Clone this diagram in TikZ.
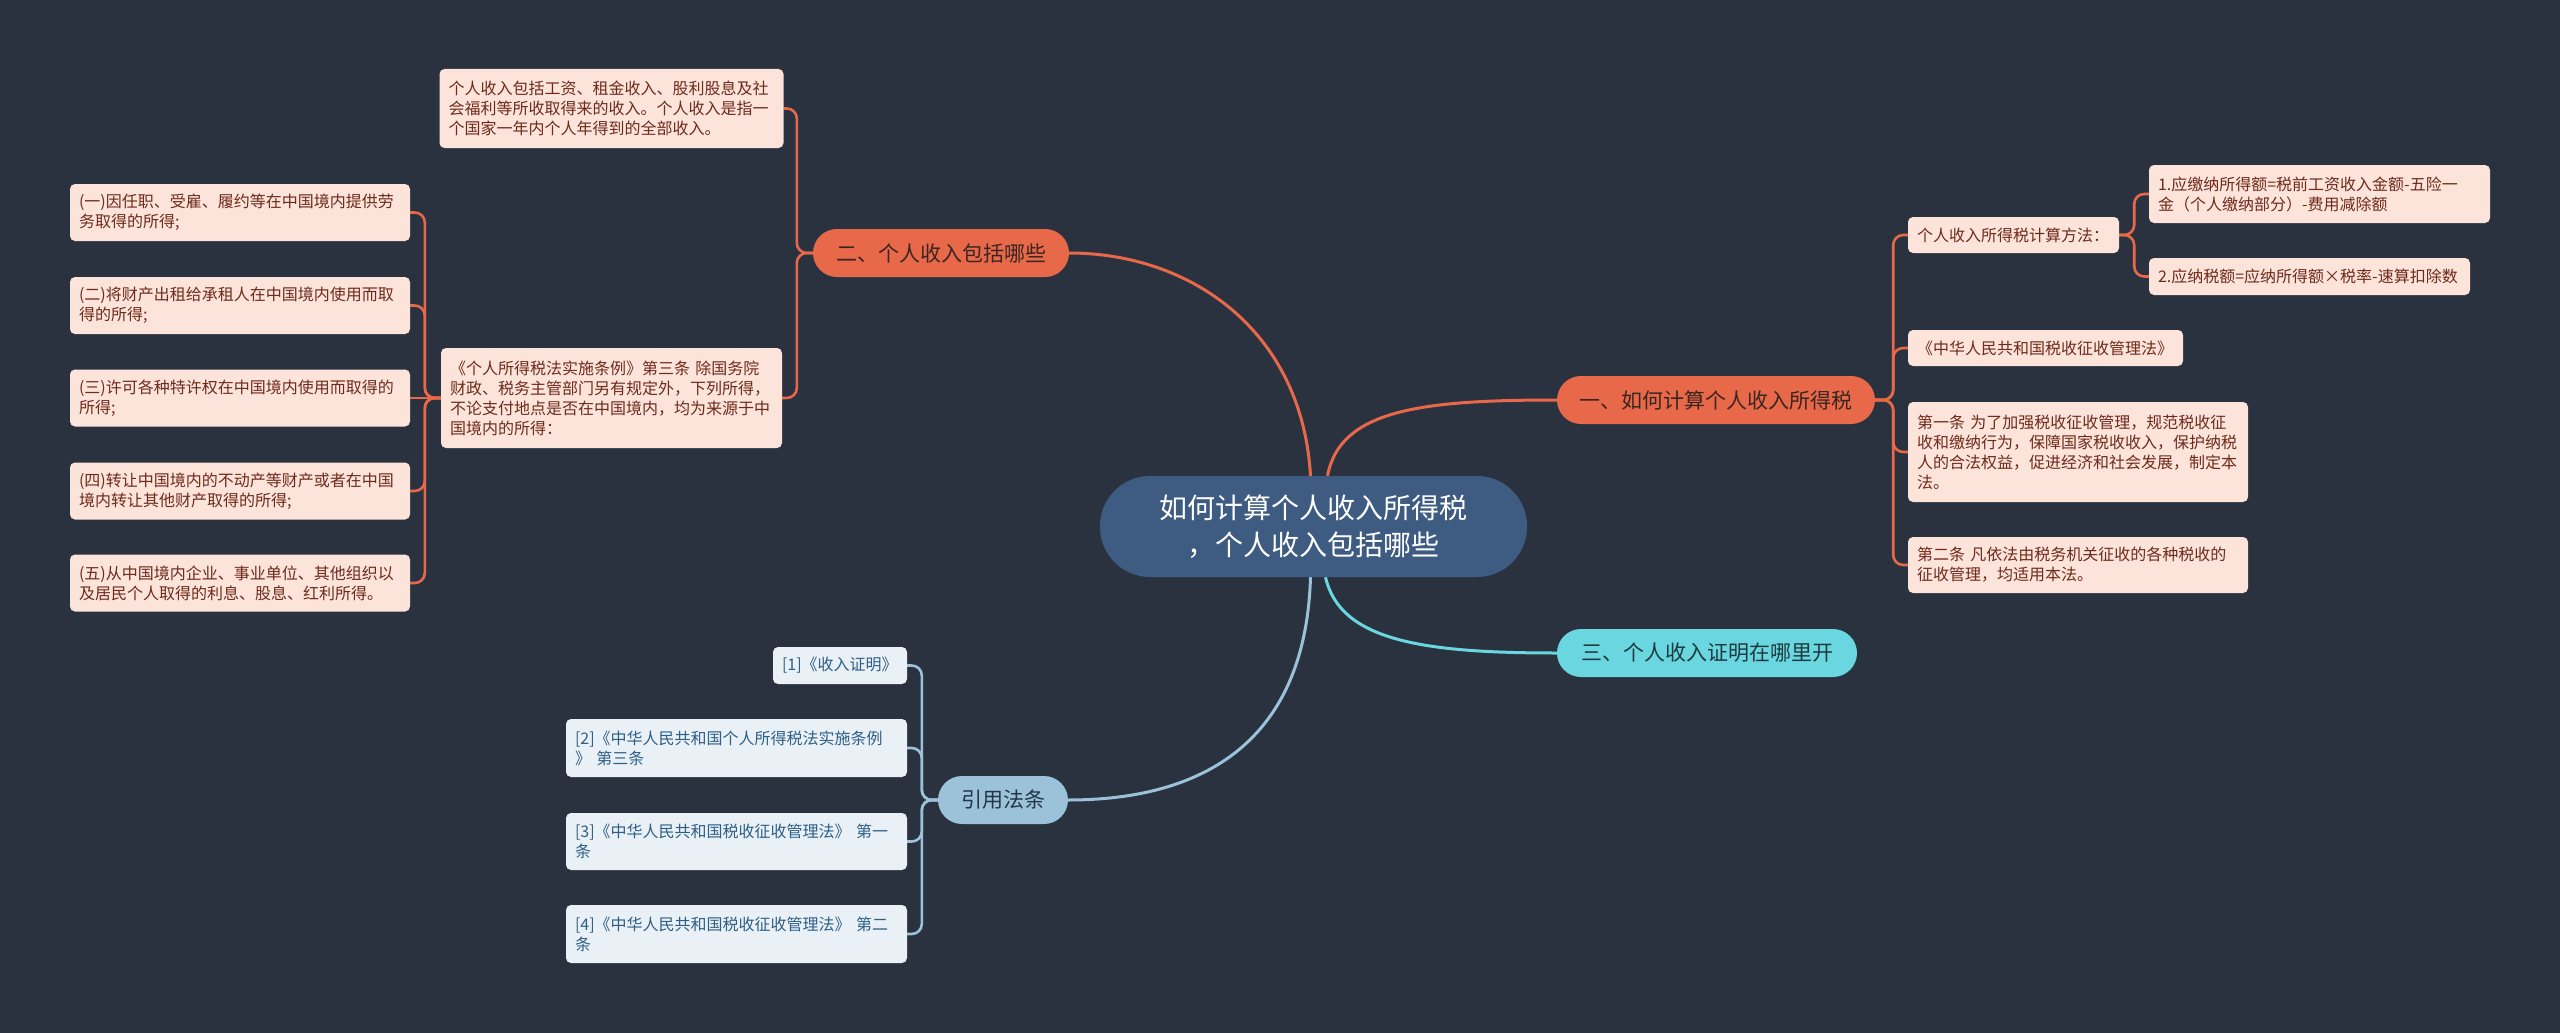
\documentclass[tikz,border=0pt]{standalone}
\usepackage{fontspec}
\setmainfont{Noto Sans CJK SC}
\definecolor{bgc}{HTML}{2A3240}
\definecolor{cfill}{HTML}{3E5B82}
\definecolor{ofill}{HTML}{E8694A}
\definecolor{otext}{HTML}{3A2520}
\definecolor{cyfill}{HTML}{6AD6DF}
\definecolor{cytext}{HTML}{1D3A3E}
\definecolor{lbfill}{HTML}{9CC2DA}
\definecolor{lbtext}{HTML}{22354A}
\definecolor{pfill}{HTML}{FCE4DB}
\definecolor{ptext}{HTML}{6E2A1A}
\definecolor{bfill}{HTML}{E9F1F7}
\definecolor{btext}{HTML}{2F5F86}
\pgfdeclarelayer{back}
\pgfdeclarelayer{conn}
\pgfsetlayers{back,conn,main}
\tikzset{
  centerbox/.style={fill=cfill, text=white, rounded corners=50pt, align=center,
    font=\fontsize{28}{37}\selectfont, minimum width=427pt, minimum height=101pt, inner sep=0pt},
  branchbox/.style={rounded corners=24pt, font=\fontsize{21}{25}\selectfont,
    minimum height=48pt, inner sep=0pt},
  obranch/.style={branchbox, fill=ofill, text=otext},
  cybranch/.style={branchbox, fill=cyfill, text=cytext},
  lbbranch/.style={branchbox, fill=lbfill, text=lbtext},
  leafbox/.style={rounded corners=5pt, font=\fontsize{16}{20}\selectfont, align=left,
    inner xsep=9pt, inner ysep=0pt},
  pleaf/.style={leafbox, fill=pfill, text=ptext},
  bleaf/.style={leafbox, fill=bfill, text=btext},
  oline/.style={draw=ofill, line width=2.6pt, rounded corners=10pt},
  bline/.style={draw=lbfill, line width=2.6pt, rounded corners=10pt},
  mainline/.style={line width=3pt},
}
\begin{document}
\begin{tikzpicture}[x=1pt,y=-1pt]
\begin{pgfonlayer}{back}
\fill[bgc] (0,0) rectangle (2560,1033);
\end{pgfonlayer}
\useasboundingbox (0,0) rectangle (2560,1033);

% center
\node[centerbox] (c) at (1313.5,526.5) {如何计算个人收入所得税\\，个人收入包括哪些};

% branches
\node[obranch, minimum width=318pt] (b1) at (1716,400) {一、如何计算个人收入所得税};
\node[obranch, minimum width=256pt] (b2) at (941,253) {二、个人收入包括哪些};
\node[cybranch, minimum width=300pt] (b3) at (1707,653) {三、个人收入证明在哪里开};
\node[lbbranch, minimum width=130pt] (b4) at (1003,800) {引用法条};

% branch 2 leaves
\node[pleaf, text width=326pt, minimum height=79pt] (ltop) at (611.5,108.5)
  {个人收入包括工资、租金收入、股利股息及社\\会福利等所收取得来的收入。个人收入是指一\\个国家一年内个人年得到的全部收入。};
\node[pleaf, text width=323pt, minimum height=100pt] (ltl) at (611.5,398)
  {《个人所得税法实施条例》第三条~除国务院\\财政、税务主管部门另有规定外，下列所得，\\不论支付地点是否在中国境内，均为来源于中\\国境内的所得：};
\node[pleaf, text width=322pt, minimum height=57pt] (s1) at (240,212.5)
  {(一)因任职、受雇、履约等在中国境内提供劳\\务取得的所得;};
\node[pleaf, text width=322pt, minimum height=57pt] (s2) at (240,305.5)
  {(二)将财产出租给承租人在中国境内使用而取\\得的所得;};
\node[pleaf, text width=322pt, minimum height=57pt] (s3) at (240,398)
  {(三)许可各种特许权在中国境内使用而取得的\\所得;};
\node[pleaf, text width=322pt, minimum height=57pt] (s4) at (240,491)
  {(四)转让中国境内的不动产等财产或者在中国\\境内转让其他财产取得的所得;};
\node[pleaf, text width=322pt, minimum height=57pt] (s5) at (240,583)
  {(五)从中国境内企业、事业单位、其他组织以\\及居民个人取得的利息、股息、红利所得。};

% branch 1 leaves
\node[pleaf, text width=193pt, minimum height=36pt] (r1) at (2013.5,235) {个人收入所得税计算方法：};
\node[pleaf, text width=323pt, minimum height=58pt] (r11) at (2319.5,194)
  {1.应缴纳所得额=税前工资收入金额-五险一\\金（个人缴纳部分）-费用减除额};
\node[pleaf, text width=303pt, minimum height=37pt] (r12) at (2309.5,276.5)
  {2.应纳税额=应纳所得额×税率-速算扣除数};
\node[pleaf, text width=257pt, minimum height=36pt] (r2) at (2045.5,348) {《中华人民共和国税收征收管理法》};
\node[pleaf, text width=322pt, minimum height=100pt] (r3) at (2078,452)
  {第一条~为了加强税收征收管理，规范税收征\\收和缴纳行为，保障国家税收收入，保护纳税\\人的合法权益，促进经济和社会发展，制定本\\法。};
\node[pleaf, text width=322pt, minimum height=56pt] (r4) at (2078,565)
  {第二条~凡依法由税务机关征收的各种税收的\\征收管理，均适用本法。};

% citations
\node[bleaf, text width=116pt, minimum height=37pt] (k1) at (840,665.5) {[1]《收入证明》};
\node[bleaf, text width=323pt, minimum height=58pt] (k2) at (736.5,748)
  {[2]《中华人民共和国个人所得税法实施条例\\》~第三条};
\node[bleaf, text width=323pt, minimum height=57pt] (k3) at (736.5,841.5)
  {[3]《中华人民共和国税收征收管理法》~第一\\条};
\node[bleaf, text width=323pt, minimum height=58pt] (k4) at (736.5,934)
  {[4]《中华人民共和国税收征收管理法》~第二\\条};

\begin{pgfonlayer}{conn}
% main curves
\draw[draw=ofill, mainline] ([xshift=-3pt]c.north) .. controls (1302,330) and (1190,253) .. (b2.east);
\draw[draw=ofill, mainline] ([xshift=14pt]c.north) .. controls (1340,410) and (1420,400) .. (b1.west);
\draw[draw=cyfill, mainline] ([xshift=12pt]c.south) .. controls (1340,640) and (1420,653) .. (b3.west);
\draw[draw=lbfill, mainline] ([xshift=-3pt]c.south) .. controls (1305,760) and (1180,800) .. (b4.east);

% branch 2 brackets
\draw[oline] (b2.west) -- ++(-16,0) |- (ltop.east);
\draw[oline] (b2.west) -- ++(-16,0) |- (ltl.east);
\draw[oline] (ltl.west) -- ++(-16,0) |- (s1.east);
\draw[oline] (ltl.west) -- ++(-16,0) |- (s2.east);
\draw[oline] (ltl.west) -- (s3.east);
\draw[oline] (ltl.west) -- ++(-16,0) |- (s4.east);
\draw[oline] (ltl.west) -- ++(-16,0) |- (s5.east);

% branch 1 brackets
\draw[oline] (b1.east) -- ++(18,0) |- (r1.west);
\draw[oline] (b1.east) -- ++(18,0) |- (r2.west);
\draw[oline] (b1.east) -- ++(18,0) |- (r3.west);
\draw[oline] (b1.east) -- ++(18,0) |- (r4.west);
\draw[oline] (r1.east) -- ++(15,0) |- (r11.west);
\draw[oline] (r1.east) -- ++(15,0) |- (r12.west);

% citation brackets
\draw[bline] (b4.west) -- ++(-16,0) |- (k1.east);
\draw[bline] (b4.west) -- ++(-16,0) |- (k2.east);
\draw[bline] (b4.west) -- ++(-16,0) |- (k3.east);
\draw[bline] (b4.west) -- ++(-16,0) |- (k4.east);
\end{pgfonlayer}
\end{tikzpicture}
\end{document}
